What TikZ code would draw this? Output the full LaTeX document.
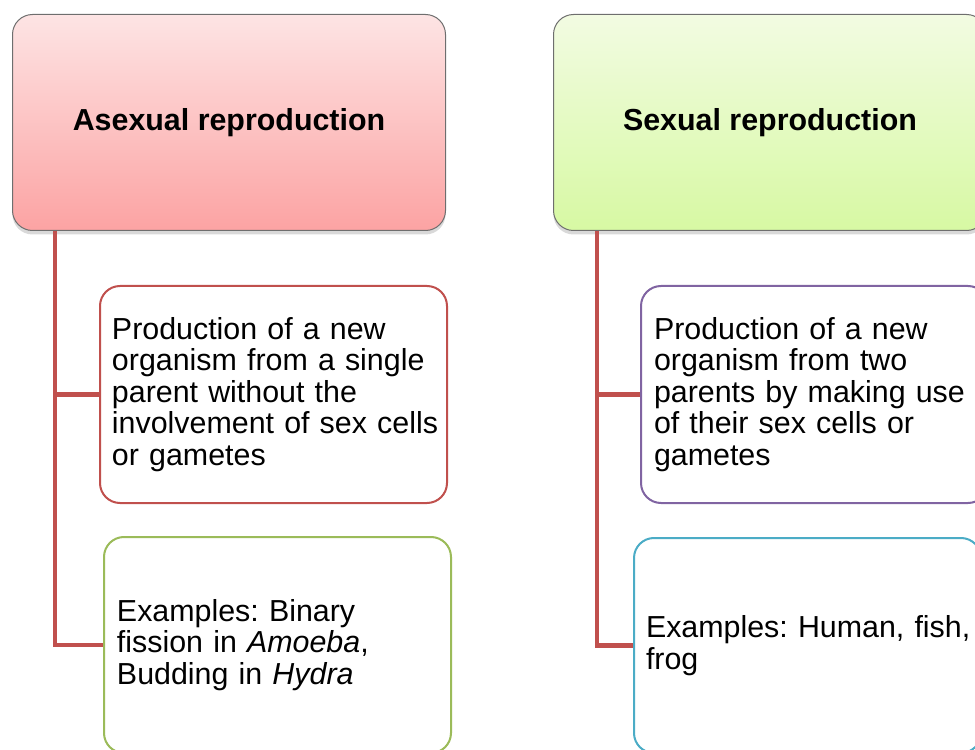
\documentclass[tikz,border=0pt]{standalone}
\usepackage{fontspec}
\setmainfont{Liberation Sans}
\usetikzlibrary{shadows}
\newlength{\pu}\setlength{\pu}{0.02cm}
\definecolor{linered}{HTML}{C0504D}
\definecolor{pinktop}{RGB}{253,228,228}
\definecolor{pinkbot}{RGB}{252,163,163}
\definecolor{greentop}{RGB}{242,251,226}
\definecolor{greenbot}{RGB}{215,249,163}
\definecolor{bred}{HTML}{C0504D}
\definecolor{bgreen}{HTML}{9BBB59}
\definecolor{bpurple}{HTML}{8064A2}
\definecolor{bcyan}{HTML}{4BACC6}
\definecolor{tborder}{RGB}{110,110,110}
\frenchspacing
\begin{document}
\begin{tikzpicture}[x=0.02cm,y=-0.02cm,
  titlebox/.style={rectangle, rounded corners=20\pu, draw=tborder, line width=1\pu,
    minimum width=433\pu, minimum height=216\pu, anchor=north west,
    font=\bfseries\fontsize{17.3}{17.9}\selectfont,
    drop shadow={shadow xshift=0pt, shadow yshift=-4\pu, opacity=0.3}},
  textbox/.style={rectangle, rounded corners=20\pu, draw, line width=2\pu, fill=white,
    align=left, text width=333\pu, inner xsep=7\pu, anchor=north west,
    font=\frenchspacing\fontsize{17.3}{17.9}\selectfont},
  conn/.style={draw=linered, line width=4.5\pu}]
\useasboundingbox (0,0) rectangle (975,750);
% title boxes
\node[titlebox, top color=pinktop, bottom color=pinkbot] (ta) at (12,14) {Asexual reproduction};
\node[titlebox, top color=greentop, bottom color=greenbot] (tb) at (553,14) {Sexual reproduction};
% text boxes
\node[textbox, draw=bred, minimum height=217\pu] (a1) at (99,285)
  {\hspace*{5\pu}Production of a new\\\hspace*{5\pu}organism from a single\\\hspace*{5\pu}parent without the\\\hspace*{5\pu}involvement of sex cells\\\hspace*{5\pu}or gametes};
\node[textbox, draw=bgreen, minimum height=216\pu] (a2) at (103,536)
  {\hspace*{6\pu}Examples: Binary\\\hspace*{6\pu}fission in \textit{Amoeba},\\\hspace*{6\pu}Budding in \textit{Hydra}};
\node[textbox, draw=bpurple, minimum height=217\pu] (b1) at (640,285)
  {\hspace*{6\pu}Production of a new\\\hspace*{6\pu}organism from two\\\hspace*{6\pu}parents by making use\\\hspace*{6\pu}of their sex cells or\\\hspace*{6\pu}gametes};
\node[textbox, draw=bcyan, minimum height=215\pu] (b2) at (633,537)
  {\hspace*{5\pu}Examples: Human, fish,\\\hspace*{5\pu}frog};
% connectors
\draw[conn] ([xshift=43\pu]ta.south west) |- (a1.west);
\draw[conn] ([xshift=43\pu]ta.south west) |- (a2.west);
\draw[conn] ([xshift=44\pu]tb.south west) |- (b1.west);
\draw[conn] ([xshift=44\pu]tb.south west) |- (b2.west);
\end{tikzpicture}
\end{document}
